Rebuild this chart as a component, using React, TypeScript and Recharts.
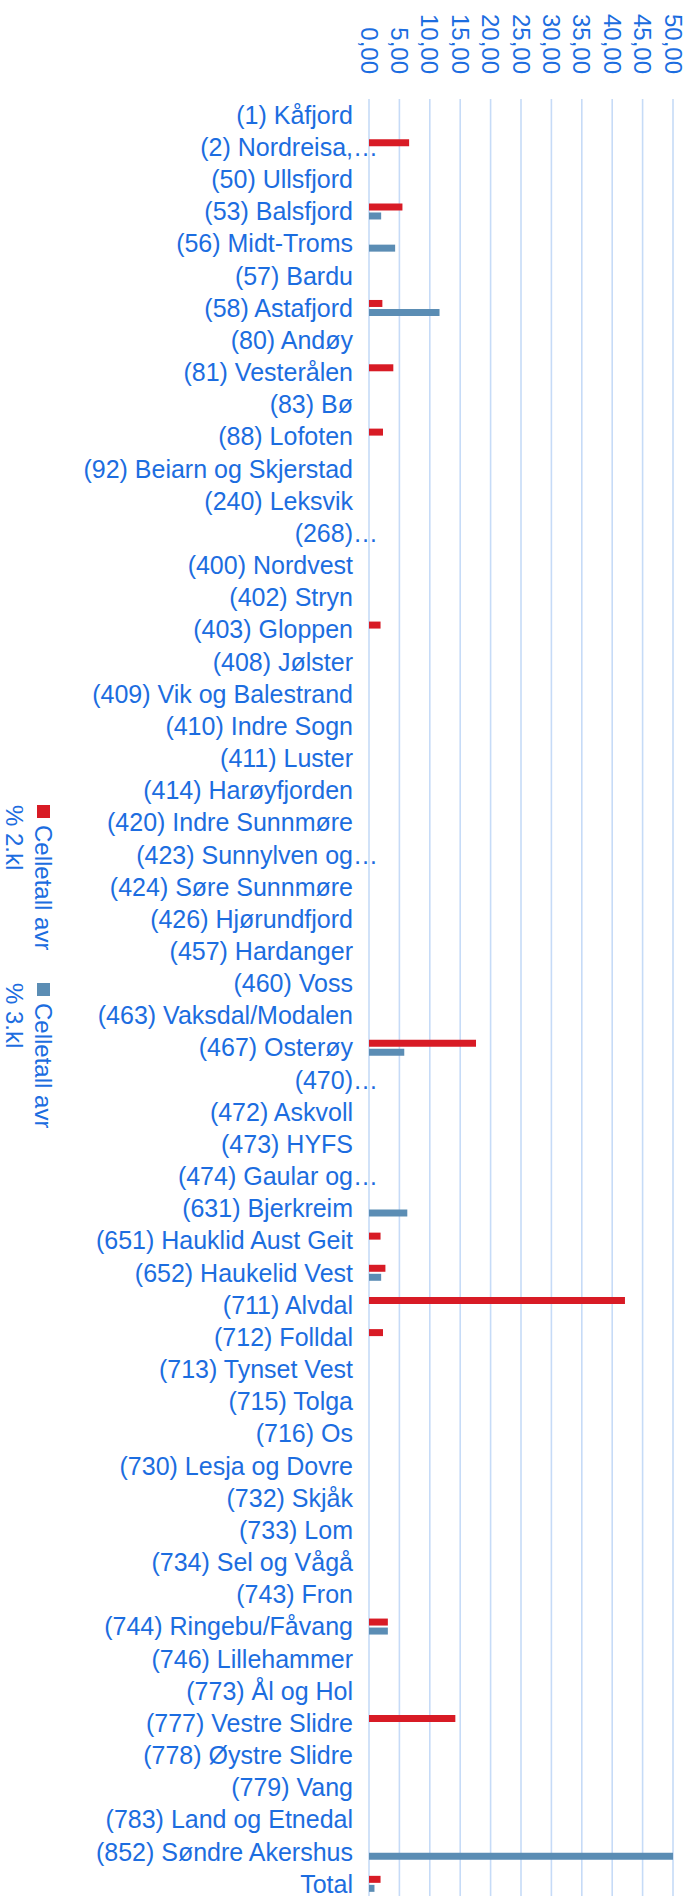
import React from "react";
import { Bar, BarChart, CartesianGrid, Legend, XAxis, YAxis } from "recharts";

const categories = [
  "(1) Kåfjord",
  "(2) Nordreisa,…",
  "(50) Ullsfjord",
  "(53) Balsfjord",
  "(56) Midt-Troms",
  "(57) Bardu",
  "(58) Astafjord",
  "(80) Andøy",
  "(81) Vesterålen",
  "(83) Bø",
  "(88) Lofoten",
  "(92) Beiarn og Skjerstad",
  "(240) Leksvik",
  "(268)…",
  "(400) Nordvest",
  "(402) Stryn",
  "(403) Gloppen",
  "(408) Jølster",
  "(409) Vik og Balestrand",
  "(410) Indre Sogn",
  "(411) Luster",
  "(414) Harøyfjorden",
  "(420) Indre Sunnmøre",
  "(423) Sunnylven og…",
  "(424) Søre Sunnmøre",
  "(426) Hjørundfjord",
  "(457) Hardanger",
  "(460) Voss",
  "(463) Vaksdal/Modalen",
  "(467) Osterøy",
  "(470)…",
  "(472) Askvoll",
  "(473) HYFS",
  "(474) Gaular og…",
  "(631) Bjerkreim",
  "(651) Hauklid Aust Geit",
  "(652) Haukelid Vest",
  "(711) Alvdal",
  "(712) Folldal",
  "(713) Tynset Vest",
  "(715) Tolga",
  "(716) Os",
  "(730) Lesja og Dovre",
  "(732) Skjåk",
  "(733) Lom",
  "(734) Sel og Vågå",
  "(743) Fron",
  "(744) Ringebu/Fåvang",
  "(746) Lillehammer",
  "(773) Ål og Hol",
  "(777) Vestre Slidre",
  "(778) Øystre Slidre",
  "(779) Vang",
  "(783) Land og Etnedal",
  "(852) Søndre Akershus",
  "Total",
];

// Celletall avr % 2.kl
const kl2: (number | null)[] = [
  null, 6.6, null, 5.5, null, null, 2.2, null, 4.0, null,
  2.3, null, null, null, null, null, 1.9, null, null, null,
  null, null, null, null, null, null, null, null, null, 17.6,
  null, null, null, null, null, 1.9, 2.7, 42.1, 2.3, null,
  null, null, null, null, null, null, null, 3.1, null, null,
  14.2, null, null, null, null, 1.9,
];

// Celletall avr % 3.kl
const kl3: (number | null)[] = [
  null, null, null, 2.0, 4.3, null, 11.6, null, null, null,
  null, null, null, null, null, null, null, null, null, null,
  null, null, null, null, null, null, null, null, null, 5.8,
  null, null, null, null, 6.3, null, 2.0, null, null, null,
  null, null, null, null, null, null, null, 3.1, null, null,
  null, null, null, null, 50.0, 0.9,
];

const xTicks = [0, 5, 10, 15, 20, 25, 30, 35, 40, 45, 50];

const seriesNames = ["Celletall avr % 2.kl", "Celletall avr % 3.kl"];
const seriesColors = ["#d81b25", "#5b8db4"];

const data = categories.map((name, i) => ({ name, kl2: kl2[i], kl3: kl3[i] }));

const textBlue = "#1c6de0";
const font = '"Liberation Sans", Arial, sans-serif';

function XTick(props: any) {
  const { x, y, payload } = props;
  const label = Number(payload.value).toFixed(2).replace(".", ",");
  return (
    <text
      transform={`translate(${x},${y}) rotate(90)`}
      textAnchor="end"
      dy="0.35em"
      fill={textBlue}
      fontSize={24}
      fontFamily={font}
    >
      {label}
    </text>
  );
}

function YTick(props: any) {
  const { x, y, payload } = props;
  const text: string = payload.value;
  // truncated labels let the ellipsis hang past the label edge
  const shift = text.endsWith("…") ? 25 : 0;
  return (
    <text x={x + shift} y={y} dy="0.35em" textAnchor="end" fill={textBlue} fontSize={25} fontFamily={font}>
      {text}
    </text>
  );
}

function LegendContent(props: any) {
  const { payload } = props;
  return (
    <div style={{ fontFamily: font, fontSize: 24, color: textBlue }}>
      {(payload || []).map((entry: any, i: number) => (
        <div
          key={i}
          style={{
            writingMode: "vertical-rl",
            height: 160,
            width: 58,
            lineHeight: "29px",
            marginBottom: 18,
          }}
        >
          <span
            style={{
              display: "inline-block",
              width: 13,
              height: 13,
              background: entry.color,
              marginBottom: 7,
              verticalAlign: "middle",
              position: "relative",
              left: -6,
            }}
          />
          {entry.value}
        </div>
      ))}
    </div>
  );
}

export default function App() {
  return (
    <div style={{ position: "absolute", left: 0, top: 0, width: 694, height: 1896, overflow: "hidden", background: "#fff" }}>
      <BarChart
        width={694}
        height={1900}
        data={data}
        layout="vertical"
        barSize={7}
        barGap={2}
        margin={{ top: 0, right: 21, bottom: 0, left: 0 }}
      >
        <CartesianGrid horizontal={false} stroke="#c6dbf7" strokeWidth={1.6} />
        <XAxis
          type="number"
          orientation="top"
          domain={[0, 50]}
          ticks={xTicks}
          height={99}
          tickSize={0}
          tickMargin={25}
          axisLine={false}
          tickLine={false}
          tick={<XTick />}
          interval={0}
        />
        <YAxis
          type="category"
          dataKey="name"
          width={369}
          tickSize={0}
          tickMargin={16}
          axisLine={false}
          tickLine={false}
          interval={0}
          tick={<YTick />}
        />
        <Legend
          layout="vertical"
          align="center"
          verticalAlign="middle"
          content={<LegendContent />}
          wrapperStyle={{ left: 0, top: 805, width: 60 }}
        />
        <Bar dataKey="kl2" name={seriesNames[0]} fill={seriesColors[0]} isAnimationActive={false} />
        <Bar dataKey="kl3" name={seriesNames[1]} fill={seriesColors[1]} isAnimationActive={false} />
      </BarChart>
    </div>
  );
}
